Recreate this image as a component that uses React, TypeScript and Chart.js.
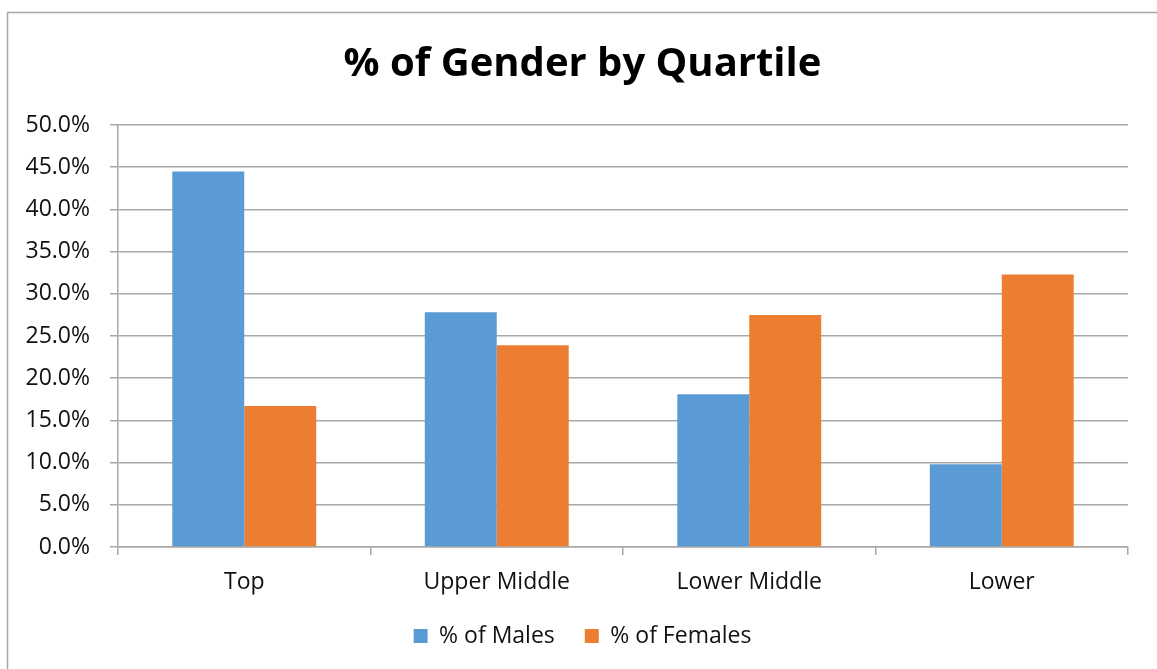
import { useEffect, useRef } from "react";
import { Chart, registerables } from "chart.js";

Chart.register(...registerables);

const categories = ["Top", "Upper Middle", "Lower Middle", "Lower"];
const malesPct = [44.5, 27.8, 18.1, 9.8];
const femalesPct = [16.7, 23.9, 27.5, 32.3];
const seriesNames = ["% of Males", "% of Females"];
const yMin = 0;
const yMax = 50;
const yStep = 5;

const FONT = "'Open Sans', 'Liberation Sans', sans-serif";

const framePlugin = {
  id: "frame",
  beforeDraw(chart: any) {
    const ctx = chart.ctx;
    ctx.save();
    ctx.fillStyle = "#ffffff";
    ctx.fillRect(0, 0, chart.width, chart.height);
    ctx.strokeStyle = "#a8a8a8";
    ctx.lineWidth = 1.5;
    ctx.beginPath();
    ctx.moveTo(7.5, chart.height);
    ctx.lineTo(7.5, 12.5);
    ctx.lineTo(chart.width, 12.5);
    ctx.stroke();
    ctx.restore();
  },
};

// widen the y-axis label clip region to the left edge of the canvas
const yLabelAreaPlugin = {
  id: "yLabelArea",
  afterLayout(chart: any) {
    if (chart.scales.y) chart.scales.y.left = 0;
  },
};

export default function App() {
  const ref = useRef<HTMLCanvasElement | null>(null);
  useEffect(() => {
    if (!ref.current) return;
    const chart = new Chart(ref.current, {
      type: "bar",
      data: {
        labels: categories,
        datasets: [
          {
            label: seriesNames[0],
            data: malesPct,
            backgroundColor: "#5B9BD5",
            barPercentage: 1,
            categoryPercentage: 0.57,
          },
          {
            label: seriesNames[1],
            data: femalesPct,
            backgroundColor: "#ED7D31",
            barPercentage: 1,
            categoryPercentage: 0.57,
          },
        ],
      },
      options: {
        animation: false,
        responsive: false,
        maintainAspectRatio: false,
        layout: { padding: { left: 37, right: 29, top: 0, bottom: 11.5 } },
        plugins: {
          tooltip: { enabled: false },
          title: {
            display: true,
            text: "% of Gender by Quartile",
            color: "#000000",
            font: { family: FONT, size: 40, weight: "bold", lineHeight: 1.2 },
            padding: { top: 41, bottom: 36 },
          },
          legend: {
            position: "bottom",
            labels: {
              color: "#111111",
              font: { family: FONT, size: 23 },
              boxWidth: 14,
              boxHeight: 14,
              padding: 30,
            },
          },
        },
        scales: {
          x: {
            grid: {
              display: true,
              drawOnChartArea: false,
              drawTicks: true,
              tickLength: 8,
              offset: true,
              color: "#a8a8a8",
              lineWidth: 1.5,
            },
            border: { display: true, color: "#a8a8a8", width: 1.5 },
            ticks: {
              color: "#111111",
              font: { family: FONT, size: 23 },
              padding: 14,
            },
            afterFit(scale: any) {
              scale.height = 47.5;
            },
          },
          y: {
            min: yMin,
            max: yMax,
            grid: {
              color: "#a8a8a8",
              lineWidth: 1.5,
              tickLength: 8,
            },
            border: { display: true, color: "#a8a8a8", width: 1.5 },
            ticks: {
              stepSize: yStep,
              color: "#111111",
              font: { family: FONT, size: 23 },
              padding: 20,
              callback: (v: any) => Number(v).toFixed(1) + "%",
            },
            afterFit(scale: any) {
              scale.width = 81;
            },
          },
        },
      },
      plugins: [framePlugin, yLabelAreaPlugin],
    });
    return () => chart.destroy();
  }, []);
  return (
    <div style={{ position: "absolute", left: 0, top: 0, width: 1157, height: 669 }}>
      <canvas ref={ref} width={1157} height={669} style={{ width: 1157, height: 669 }} />
    </div>
  );
}
